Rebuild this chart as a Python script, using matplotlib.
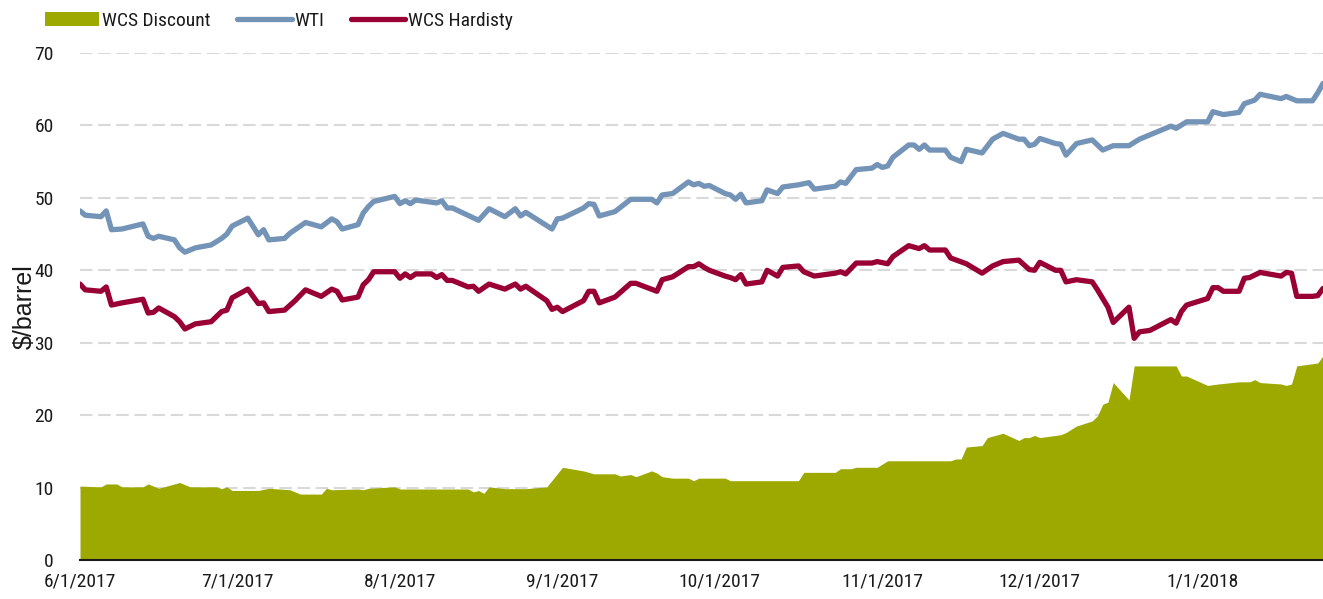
import matplotlib
matplotlib.use("Agg")
import matplotlib.pyplot as plt
import matplotlib.font_manager as fm
import pandas as pd
from matplotlib.patches import Patch
from matplotlib.lines import Line2D

# ---------------- data ----------------
wti_dates = [
    "2017-06-01", "2017-06-02", "2017-06-05", "2017-06-06", "2017-06-07", "2017-06-09",
    "2017-06-13", "2017-06-14", "2017-06-15", "2017-06-16", "2017-06-19", "2017-06-20",
    "2017-06-21", "2017-06-23", "2017-06-26", "2017-06-28", "2017-06-29", "2017-06-30",
    "2017-07-03", "2017-07-05", "2017-07-06", "2017-07-07", "2017-07-10", "2017-07-11",
    "2017-07-14", "2017-07-17", "2017-07-19", "2017-07-20", "2017-07-21", "2017-07-24",
    "2017-07-25", "2017-07-26", "2017-07-27", "2017-07-31", "2017-08-01", "2017-08-02",
    "2017-08-03", "2017-08-04", "2017-08-08", "2017-08-09", "2017-08-10", "2017-08-11",
    "2017-08-16", "2017-08-18", "2017-08-21", "2017-08-23", "2017-08-24", "2017-08-25",
    "2017-08-30", "2017-08-31", "2017-09-01", "2017-09-05", "2017-09-06", "2017-09-07",
    "2017-09-08", "2017-09-11", "2017-09-14", "2017-09-18", "2017-09-19", "2017-09-20",
    "2017-09-22", "2017-09-25", "2017-09-26", "2017-09-27", "2017-09-28", "2017-09-29",
    "2017-10-02", "2017-10-03", "2017-10-04", "2017-10-05", "2017-10-06", "2017-10-09",
    "2017-10-10", "2017-10-12", "2017-10-13", "2017-10-16", "2017-10-18", "2017-10-19",
    "2017-10-23", "2017-10-24", "2017-10-25", "2017-10-27", "2017-10-30", "2017-10-31",
    "2017-11-01", "2017-11-02", "2017-11-03", "2017-11-06", "2017-11-07", "2017-11-08",
    "2017-11-09", "2017-11-10", "2017-11-13", "2017-11-14", "2017-11-16", "2017-11-17",
    "2017-11-20", "2017-11-22", "2017-11-24", "2017-11-27", "2017-11-28", "2017-11-29",
    "2017-11-30", "2017-12-01", "2017-12-04", "2017-12-05", "2017-12-06", "2017-12-08",
    "2017-12-11", "2017-12-13", "2017-12-15", "2017-12-18", "2017-12-20", "2017-12-22",
    "2017-12-26", "2017-12-27", "2017-12-29", "2018-01-02", "2018-01-03", "2018-01-05",
    "2018-01-08", "2018-01-09", "2018-01-11", "2018-01-12", "2018-01-16", "2018-01-17",
    "2018-01-19", "2018-01-22", "2018-01-23", "2018-01-24",
]
wti_values = [
    48.2, 47.6, 47.4, 48.2, 45.6, 45.7,
    46.4, 44.7, 44.4, 44.7, 44.2, 43.1,
    42.5, 43.1, 43.5, 44.4, 45.0, 46.1,
    47.2, 44.9, 45.6, 44.2, 44.4, 45.1,
    46.6, 46.0, 47.1, 46.7, 45.7, 46.3,
    47.9, 48.8, 49.5, 50.2, 49.2, 49.6,
    49.2, 49.7, 49.3, 49.6, 48.6, 48.6,
    46.9, 48.5, 47.4, 48.5, 47.5, 48.0,
    45.7, 47.1, 47.2, 48.6, 49.2, 49.1,
    47.5, 48.1, 49.8, 49.8, 49.3, 50.4,
    50.6, 52.2, 51.8, 52.0, 51.6, 51.7,
    50.6, 50.4, 49.8, 50.5, 49.3, 49.6,
    51.1, 50.6, 51.5, 51.8, 52.1, 51.2,
    51.6, 52.2, 52.0, 53.9, 54.1, 54.6,
    54.2, 54.4, 55.6, 57.3, 57.3, 56.7,
    57.3, 56.6, 56.6, 55.6, 55.0, 56.7,
    56.2, 58.1, 58.9, 58.1, 58.1, 57.2,
    57.4, 58.2, 57.5, 57.4, 55.9, 57.5,
    58.0, 56.6, 57.2, 57.2, 58.1, 58.7,
    59.9, 59.6, 60.5, 60.5, 61.9, 61.5,
    61.8, 63.0, 63.5, 64.3, 63.7, 64.0,
    63.4, 63.4, 64.5, 65.8,
]

hardisty_dates = [
    "2017-06-01", "2017-06-02", "2017-06-05", "2017-06-06", "2017-06-07", "2017-06-09",
    "2017-06-13", "2017-06-14", "2017-06-15", "2017-06-16", "2017-06-19", "2017-06-20",
    "2017-06-21", "2017-06-23", "2017-06-26", "2017-06-28", "2017-06-29", "2017-06-30",
    "2017-07-03", "2017-07-05", "2017-07-06", "2017-07-07", "2017-07-10", "2017-07-12",
    "2017-07-14", "2017-07-17", "2017-07-19", "2017-07-20", "2017-07-21", "2017-07-24",
    "2017-07-25", "2017-07-26", "2017-07-27", "2017-07-31", "2017-08-01", "2017-08-02",
    "2017-08-03", "2017-08-04", "2017-08-07", "2017-08-08", "2017-08-09", "2017-08-10",
    "2017-08-11", "2017-08-14", "2017-08-15", "2017-08-16", "2017-08-18", "2017-08-21",
    "2017-08-23", "2017-08-24", "2017-08-25", "2017-08-29", "2017-08-30", "2017-08-31",
    "2017-09-01", "2017-09-05", "2017-09-06", "2017-09-07", "2017-09-08", "2017-09-11",
    "2017-09-14", "2017-09-15", "2017-09-19", "2017-09-20", "2017-09-22", "2017-09-25",
    "2017-09-26", "2017-09-27", "2017-09-28", "2017-09-29", "2017-10-02", "2017-10-03",
    "2017-10-04", "2017-10-05", "2017-10-06", "2017-10-09", "2017-10-10", "2017-10-12",
    "2017-10-13", "2017-10-16", "2017-10-17", "2017-10-19", "2017-10-23", "2017-10-24",
    "2017-10-25", "2017-10-27", "2017-10-30", "2017-10-31", "2017-11-02", "2017-11-03",
    "2017-11-06", "2017-11-07", "2017-11-08", "2017-11-09", "2017-11-10", "2017-11-13",
    "2017-11-14", "2017-11-17", "2017-11-20", "2017-11-22", "2017-11-24", "2017-11-27",
    "2017-11-29", "2017-11-30", "2017-12-01", "2017-12-04", "2017-12-05", "2017-12-06",
    "2017-12-08", "2017-12-11", "2017-12-12", "2017-12-13", "2017-12-14", "2017-12-15",
    "2017-12-18", "2017-12-19", "2017-12-20", "2017-12-22", "2017-12-26", "2017-12-27",
    "2017-12-28", "2017-12-29", "2018-01-02", "2018-01-03", "2018-01-04", "2018-01-05",
    "2018-01-08", "2018-01-09", "2018-01-10", "2018-01-12", "2018-01-16", "2018-01-17",
    "2018-01-18", "2018-01-19", "2018-01-22", "2018-01-23", "2018-01-24",
]
hardisty_values = [
    38.1, 37.3, 37.1, 37.7, 35.2, 35.5,
    36.0, 34.1, 34.2, 34.8, 33.6, 32.9,
    31.9, 32.6, 32.9, 34.3, 34.5, 36.2,
    37.4, 35.4, 35.5, 34.3, 34.5, 35.8,
    37.3, 36.4, 37.4, 37.1, 35.9, 36.3,
    38.0, 38.7, 39.8, 39.8, 38.9, 39.5,
    39.0, 39.5, 39.5, 39.0, 39.4, 38.6,
    38.6, 37.7, 37.8, 37.1, 38.1, 37.4,
    38.1, 37.4, 37.8, 35.8, 34.6, 34.9,
    34.3, 35.8, 37.1, 37.1, 35.5, 36.3,
    38.2, 38.2, 37.1, 38.7, 39.1, 40.5,
    40.5, 40.9, 40.4, 40.0, 39.2, 39.0,
    38.7, 39.4, 38.1, 38.4, 40.0, 39.2,
    40.4, 40.6, 39.8, 39.2, 39.6, 39.8,
    39.5, 41.0, 41.0, 41.2, 40.9, 41.9,
    43.4, 43.2, 43.0, 43.4, 42.8, 42.8,
    41.7, 40.9, 39.6, 40.6, 41.2, 41.4,
    40.1, 40.0, 41.1, 40.0, 40.0, 38.4,
    38.7, 38.4, 37.3, 36.1, 34.9, 32.8,
    34.9, 30.6, 31.5, 31.7, 33.2, 32.7,
    34.3, 35.2, 36.1, 37.6, 37.6, 37.1,
    37.1, 38.9, 39.0, 39.7, 39.2, 39.7,
    39.6, 36.4, 36.4, 36.5, 37.5,
]

discount_dates = [
    "2017-06-01", "2017-06-05", "2017-06-06", "2017-06-08", "2017-06-09", "2017-06-13",
    "2017-06-14", "2017-06-16", "2017-06-20", "2017-06-22", "2017-06-27", "2017-06-28",
    "2017-06-29", "2017-06-30", "2017-07-05", "2017-07-07", "2017-07-11", "2017-07-13",
    "2017-07-17", "2017-07-18", "2017-07-19", "2017-07-24", "2017-07-25", "2017-07-26",
    "2017-07-31", "2017-08-01", "2017-08-14", "2017-08-15", "2017-08-16", "2017-08-17",
    "2017-08-18", "2017-08-21", "2017-08-25", "2017-08-29", "2017-09-01", "2017-09-05",
    "2017-09-07", "2017-09-11", "2017-09-12", "2017-09-14", "2017-09-15", "2017-09-18",
    "2017-09-19", "2017-09-20", "2017-09-22", "2017-09-25", "2017-09-26", "2017-09-27",
    "2017-10-02", "2017-10-03", "2017-10-16", "2017-10-17", "2017-10-23", "2017-10-24",
    "2017-10-26", "2017-10-27", "2017-10-31", "2017-11-02", "2017-11-14", "2017-11-15",
    "2017-11-16", "2017-11-17", "2017-11-20", "2017-11-21", "2017-11-24", "2017-11-27",
    "2017-11-28", "2017-11-29", "2017-11-30", "2017-12-01", "2017-12-05", "2017-12-06",
    "2017-12-08", "2017-12-11", "2017-12-12", "2017-12-13", "2017-12-14", "2017-12-15",
    "2017-12-18", "2017-12-19", "2017-12-27", "2017-12-28", "2017-12-29", "2018-01-02",
    "2018-01-04", "2018-01-08", "2018-01-10", "2018-01-11", "2018-01-12", "2018-01-16",
    "2018-01-17", "2018-01-18", "2018-01-19", "2018-01-23", "2018-01-24",
]
discount_values = [
    10.2, 10.1, 10.5, 10.5, 10.1, 10.1,
    10.5, 9.9, 10.7, 10.1, 10.1, 9.85,
    10.1, 9.6, 9.6, 9.9, 9.7, 9.1,
    9.1, 9.9, 9.7, 9.8, 9.7, 9.9,
    10.1, 9.8, 9.8, 9.4, 9.6, 9.2,
    10.1, 9.85, 9.85, 10.1, 12.8, 12.3,
    11.9, 11.9, 11.6, 11.8, 11.5, 12.3,
    12.0, 11.5, 11.3, 11.3, 10.95, 11.3,
    11.3, 10.95, 10.95, 12.1, 12.1, 12.6,
    12.6, 12.8, 12.8, 13.7, 13.7, 13.95,
    13.95, 15.6, 15.8, 16.9, 17.5, 16.5,
    16.9, 16.9, 17.2, 16.9, 17.3, 17.6,
    18.5, 19.2, 19.9, 21.5, 21.8, 24.5,
    22.1, 26.8, 26.8, 25.4, 25.4, 24.1,
    24.3, 24.6, 24.6, 24.9, 24.5, 24.3,
    24.1, 24.3, 26.8, 27.2, 28.2,
]

tick_labels = ["6/1/2017", "7/1/2017", "8/1/2017", "9/1/2017",
               "10/1/2017", "11/1/2017", "12/1/2017", "1/1/2018"]
tick_dates = ["2017-06-01", "2017-07-01", "2017-08-01", "2017-09-01",
              "2017-10-01", "2017-11-01", "2017-12-01", "2018-01-01"]
y_ticks = [0, 10, 20, 30, 40, 50, 60, 70]
series_names = ["WCS Discount", "WTI", "WCS Hardisty"]

# ---------------- fonts: prefer a narrow sans if one is installed ----------------
def pick_narrow():
    entries = fm.fontManager.ttflist
    by_name = {}
    for f in entries:
        by_name.setdefault(f.name, []).append(f)
    for name in ["Liberation Sans Narrow", "Arial Narrow", "Roboto Condensed",
                 "Noto Sans Condensed", "Open Sans Condensed", "DejaVu Sans Condensed",
                 "Noto Sans SemiCondensed", "Open Sans SemiCondensed"]:
        for f in by_name.get(name, []):
            if f.style == "normal" and f.weight in (400, "normal", "regular", "book"):
                return f.fname
    for fam in ["Liberation Sans", "Roboto", "Noto Sans", "DejaVu Sans", "Open Sans", "Lato"]:
        for f in by_name.get(fam, []):
            if (str(f.stretch) in ("condensed", "semi-condensed", "extra-condensed")
                    and f.style == "normal" and f.weight in (400, "normal", "regular", "book")):
                return f.fname
    return None

narrow_file = pick_narrow()
if narrow_file:
    TXT = fm.FontProperties(fname=narrow_file, size=14)
else:
    TXT = fm.FontProperties(family=["Liberation Sans", "DejaVu Sans"], size=12.5)
YLAB = fm.FontProperties(family=["Liberation Sans", "DejaVu Sans"], size=18)

# ---------------- styling ----------------
GREEN = "#9EA900"
BLUE = "#7393B7"
RED = "#990033"
INK = "#1a1a1a"
LW = 3.8

W, H, DPI = 1323, 599, 100
fig = plt.figure(figsize=(W / DPI, H / DPI), dpi=DPI)
ax = fig.add_axes([80 / W, 1 - 560 / H, (W - 80) / W, (560 - 53) / H])

wd = pd.to_datetime(wti_dates)
hd = pd.to_datetime(hardisty_dates)
dd = pd.to_datetime(discount_dates)

ax.fill_between(dd, 0, discount_values, color=GREEN, linewidth=0, zorder=2)
ax.plot(wd, wti_values, color=BLUE, lw=LW, solid_joinstyle="round",
        solid_capstyle="round", zorder=3)
ax.plot(hd, hardisty_values, color=RED, lw=LW, solid_joinstyle="round",
        solid_capstyle="round", zorder=4)

ax.set_xlim(pd.Timestamp("2017-06-01"), pd.Timestamp("2018-01-24"))
ax.set_ylim(0, 70)

ax.set_yticks(y_ticks)
ax.set_yticklabels([str(v) for v in y_ticks])
ax.set_xticks(pd.to_datetime(tick_dates))
ax.set_xticklabels(tick_labels)
for lbl in ax.get_xticklabels() + ax.get_yticklabels():
    lbl.set_fontproperties(TXT)
    lbl.set_color(INK)
ax.tick_params(axis="both", length=0)
ax.tick_params(axis="y", pad=19)
ax.tick_params(axis="x", pad=9)

for g in y_ticks[1:]:
    ax.axhline(g, color="#d9d9d9", lw=1.5, ls=(0, (6, 2.7)), zorder=1)

for s in ["top", "right", "left"]:
    ax.spines[s].set_visible(False)
ax.spines["bottom"].set_color(INK)
ax.spines["bottom"].set_linewidth(1.5)
ax.spines["bottom"].set_zorder(5)

ax.set_ylabel("$/barrel", fontproperties=YLAB, color=INK)
ax.yaxis.set_label_coords((37 - 80) / (W - 80), 0.5)

handles = [Patch(facecolor=GREEN, edgecolor="none"),
           Line2D([], [], color=BLUE, lw=LW, solid_capstyle="round"),
           Line2D([], [], color=RED, lw=LW, solid_capstyle="round")]
leg = fig.legend(handles, series_names, loc="center left",
                 bbox_to_anchor=(45 / W, 1 - 21 / H), ncol=3, frameon=False,
                 prop=TXT, handlelength=2.8, handletextpad=0.15, columnspacing=1.35,
                 borderpad=0, borderaxespad=0, handleheight=0.75)
for t in leg.get_texts():
    t.set_color(INK)

fig.savefig("out.png", dpi=DPI)
